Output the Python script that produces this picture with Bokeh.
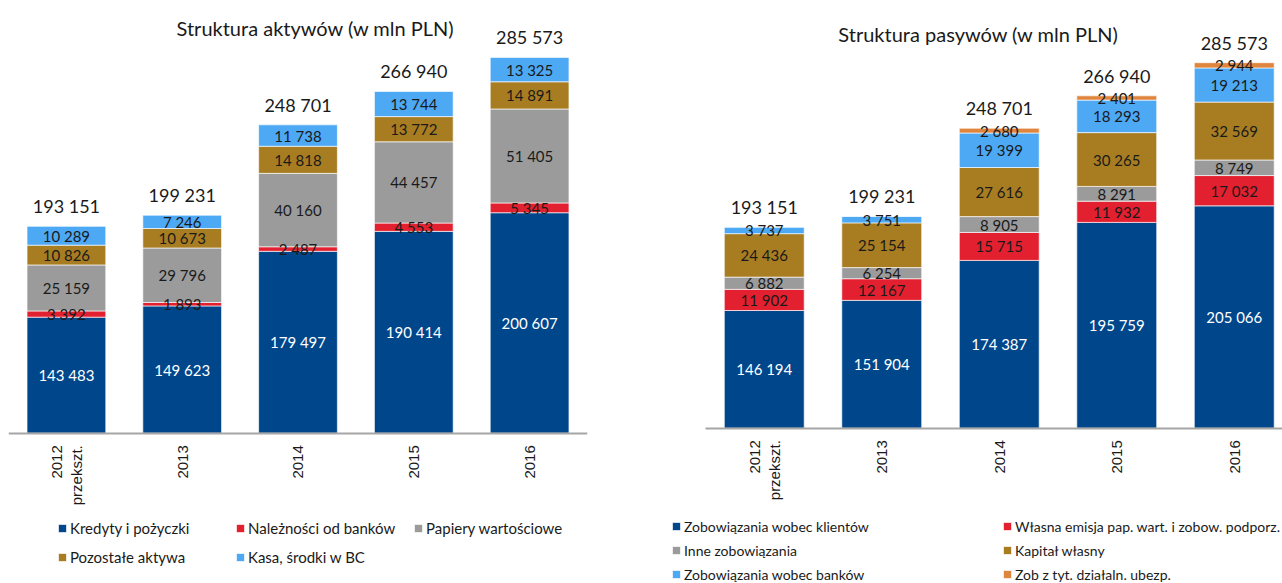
import math
import numpy as np
from bokeh.plotting import figure
from bokeh.models import Range1d, FixedTicker, Legend, LegendItem, Label, ColumnDataSource
from bokeh.layouts import row
from bokeh.core.properties import value
from bokeh.embed import file_html
from bokeh.resources import INLINE

# ---------------- data ----------------
years = ["2012\nprzekszt.", "2013", "2014", "2015", "2016"]
totals = [193151, 199231, 248701, 266940, 285573]
Y0 = 80000  # value axis minimum (bars are cut here)

assets_title = "Struktura aktywów (w mln PLN)"
assets_names = ["Kredyty i pożyczki", "Należności od banków", "Papiery wartościowe",
                "Pozostałe aktywa", "Kasa, środki w BC"]
kredyty = [143483, 149623, 179497, 190414, 200607]
naleznosci = [3392, 1893, 2487, 4553, 5345]
papiery = [25159, 29796, 40160, 44457, 51405]
pozostale = [10826, 10673, 14818, 13772, 14891]
kasa = [10289, 7246, 11738, 13744, 13325]

liab_title = "Struktura pasywów (w mln PLN)"
liab_names = ["Zobowiązania wobec klientów", "Własna emisja pap. wart. i zobow. podporz.",
              "Inne zobowiązania", "Kapitał własny", "Zobowiązania wobec banków",
              "Zob z tyt. działaln. ubezp."]
klienci = [146194, 151904, 174387, 195759, 205066]
emisja = [11902, 12167, 15715, 11932, 17032]
inne = [6882, 6254, 8905, 8291, 8749]
kapital = [24436, 25154, 27616, 30265, 32569]
banki = [3737, 3751, 19399, 18293, 19213]
ubezp = [0, 0, 2680, 2401, 2944]

# ---------------- style ----------------
NAVY = "#00468B"
RED = "#E3202F"
GRAY = "#9B9B9B"
GOLD = "#A87D22"
LIGHT = "#4EA9F5"
ORANGE = "#E0853E"
FONT = "Lato"
TXT = "#1a1a1a"
H = 583


def fmt(v):
    return f"{v:,}".replace(",", " ")


def make_chart(title, names, series, colors, width, ml, mr, y_start, y_end, x_start, x_end,
               title_xy, legend_xy, ncols, legend_font, label_width, spacing, label_height):
    p = figure(width=width, height=H, output_backend="svg", toolbar_location=None,
               x_range=Range1d(x_start, x_end), y_range=Range1d(y_start, y_end),
               y_axis_location=None, min_border_left=ml, min_border_right=mr,
               min_border_top=8, min_border_bottom=0)
    p.outline_line_color = None
    p.grid.visible = False
    p.background_fill_color = "white"

    xs = list(range(len(years)))
    arr = np.array(series, dtype=float)
    top = np.cumsum(arr, axis=0)
    bottom = np.maximum(top - arr, Y0)

    rs = []
    for i, c in enumerate(colors):
        src = ColumnDataSource(dict(x=xs, bottom=bottom[i], top=top[i]))
        r = p.vbar(x="x", bottom="bottom", top="top", width=0.68, source=src,
                   fill_color=c, line_color="white", line_width=0.8, line_alpha=0.8)
        rs.append(r)

    # segment labels, centred on the visible part of each segment
    centers = (bottom + top) / 2
    lx, ly, lt, lc = [], [], [], []
    for i in range(arr.shape[0]):
        for j in range(arr.shape[1]):
            if arr[i, j] > 0:
                lx.append(j)
                ly.append(centers[i, j])
                lt.append(fmt(int(arr[i, j])))
                lc.append("white" if i == 0 else TXT)
    p.text(x=lx, y=ly, text=lt, text_color=lc, text_align="center", text_baseline="middle",
           text_font=value(FONT), text_font_size="15px")

    # totals
    p.text(x=xs, y=totals, text=[fmt(t) for t in totals],
           text_color=TXT, text_align="center", text_baseline="middle", y_offset=-20,
           text_font=value(FONT), text_font_size="18px")

    # title
    p.add_layout(Label(x=title_xy[0], y=title_xy[1], x_units="screen", y_units="screen",
                       text=title, text_align="center", text_baseline="middle",
                       text_font=FONT, text_font_size="20px", text_color=TXT))

    # x axis, drawn at the value-axis minimum
    ax = p.xaxis[0]
    ax.fixed_location = Y0
    ax.bounds = (-0.5, x_end)
    ax.ticker = FixedTicker(ticks=xs)
    ax.major_label_overrides = {i: y for i, y in enumerate(years)}
    ax.major_label_orientation = math.pi / 2
    ax.major_label_text_font = "Liberation Sans"
    ax.major_label_text_font_size = "15px"
    ax.major_label_text_color = TXT
    ax.major_label_standoff = 12
    ax.major_tick_line_color = None
    ax.minor_tick_line_color = None
    ax.major_tick_out = 0
    ax.major_tick_in = 0
    ax.axis_line_color = "#A6A6A6"
    ax.axis_line_width = 2

    legend = Legend(items=[LegendItem(label=n, renderers=[r]) for n, r in zip(names, rs)],
                    location=legend_xy, orientation="horizontal", ncols=ncols,
                    padding=0, margin=0, border_line_color=None, background_fill_alpha=0,
                    glyph_width=10, glyph_height=10, label_standoff=3,
                    label_width=label_width, label_height=label_height, spacing=spacing,
                    label_text_font=FONT, label_text_font_size=legend_font,
                    label_text_color=TXT)
    p.add_layout(legend)
    return p


p1 = make_chart(assets_title, assets_names,
                [kredyty, naleznosci, papiery, pozostale, kasa],
                [NAVY, RED, GRAY, GOLD, LIGHT],
                width=608, ml=8, mr=21, y_start=-2221, y_end=312330, x_start=-0.5, x_end=4.5,
                title_xy=(307, 556), legend_xy=(49, 16), ncols=3,
                legend_font="15px", label_width=156, spacing=9, label_height=20)

# right chart: frame starts at 655 px, categories start at 705 px (117.5 px per category)
p2 = make_chart(liab_title, liab_names,
                [klienci, emisja, inne, kapital, banki, ubezp],
                [NAVY, RED, GRAY, GOLD, LIGHT, ORANGE],
                width=674, ml=47, mr=0, y_start=-7345, y_end=316052,
                x_start=-0.5 - 50 / 117.5, x_end=-0.5 + 577 / 117.5,
                title_xy=(323, 550), legend_xy=(16, 0), ncols=2,
                legend_font="14px", label_width=312, spacing=6, label_height=18)

layout = row(p1, p2)
open("out.html", "w").write(file_html(layout, INLINE))
